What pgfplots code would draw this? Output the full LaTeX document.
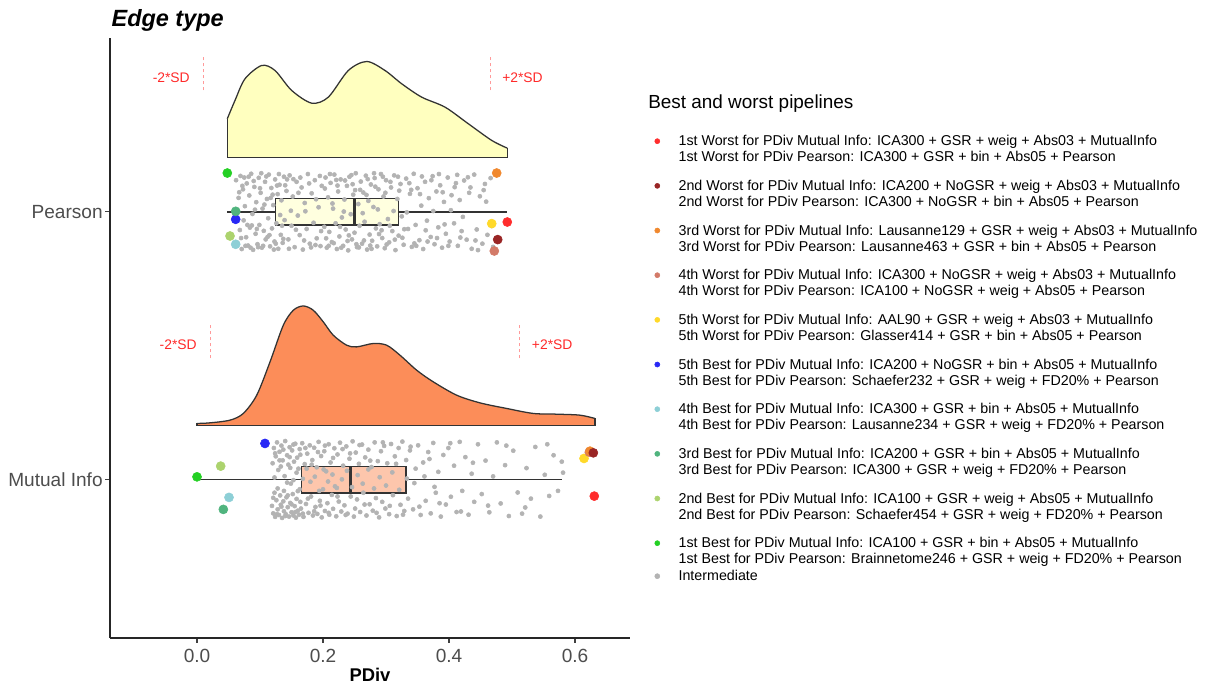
\documentclass[border=0pt]{standalone}
\usepackage{fontspec}
\setmainfont{Liberation Sans}
\usepackage{pgfplots}
\pgfplotsset{compat=1.18}
\usepgfplotslibrary{fillbetween,statistics}

\definecolor{pyel}{HTML}{FFFFBF}
\definecolor{mior}{HTML}{FC8D59}
\definecolor{ptgrey}{HTML}{B3B3B3}
\definecolor{outl}{HTML}{333333}
\definecolor{tickgrey}{HTML}{4D4D4D}
\definecolor{sdtext}{HTML}{FF2A2A}
\definecolor{sddash}{HTML}{FF9A9A}
\definecolor{cwa}{HTML}{FF2D2D}
\definecolor{cwb}{HTML}{992525}
\definecolor{cwc}{HTML}{F0882E}
\definecolor{cwd}{HTML}{D37A68}
\definecolor{cwe}{HTML}{FFD92A}
\definecolor{cbe}{HTML}{2828F5}
\definecolor{cbd}{HTML}{8DCFD6}
\definecolor{cbc}{HTML}{50B47E}
\definecolor{cbb}{HTML}{ACD36E}
\definecolor{cba}{HTML}{24D024}

% two-line legend entries; extra depth keeps the gap between entries
\newcommand\two[2]{\begin{tabular}[t]{@{}l@{}}#1\\#2\rule[-12.35pt]{0pt}{12.35pt}\end{tabular}}
\newcommand\twolast[2]{\begin{tabular}[t]{@{}l@{}}#1\\#2\end{tabular}}

\begin{document}
\begin{tikzpicture}
\begin{axis}[
  at={(0pt,0pt)}, anchor=south west,
  scale only axis, width=390pt, height=450pt,
  xmin=-0.1381, xmax=0.6873, ymin=0.4086, ymax=2.649,
  set layers, clip=false,
  axis lines*=left,
  axis line style={draw=black!85, line width=1pt},
  tick style={draw=black!75, line width=1pt},
  tick align=outside, major tick length=3.4pt,
  xtick={0,0.2,0.4,0.6}, xticklabels={0.0,0.2,0.4,0.6},
  ytick={1,2}, yticklabels={Mutual Info,Pearson},
  ticklabel style={font=\fontsize{14.3}{16}\selectfont, text=tickgrey},
  xticklabel style={inner sep=0pt, anchor=north, yshift=-4.8pt},
  yticklabel style={inner sep=0pt, anchor=east, xshift=-1.9pt},
  xlabel={PDiv},
  xlabel style={font=\fontsize{13.8}{16}\selectfont\bfseries, at={(axis description cs:0.5,0)}, anchor=north, yshift=-22.5pt, inner sep=0pt},
  legend image code/.code={\fill[#1] (0pt,3.6pt) circle[radius=1.9pt];},
  legend style={draw=none, fill=none, inner sep=0pt, outer sep=0pt,
    at={(1.0471,0.8387)}, anchor=north west,
    row sep=0.75pt, column sep=13.85pt,
    cells={anchor=base west},
    nodes={inner sep=0pt, text depth=},
    font=\fontsize{10.7}{12}\selectfont},
]

% ---- densities ----
\addplot[name path=pcurve, smooth, draw=outl, line width=0.95pt, forget plot] coordinates {
 (0.0481,2.3475) (0.0603,2.4158) (0.0762,2.4968) (0.1027,2.5464) (0.1238,2.5277)
 (0.1503,2.4531) (0.1821,2.4057) (0.2084,2.4281) (0.2402,2.5277) (0.2694,2.5613)
 (0.2984,2.5277) (0.3249,2.4781) (0.3567,2.4281) (0.3937,2.3908) (0.4306,2.3289)
 (0.4678,2.2666) (0.4925,2.2378)};
\addplot[name path=pbase, draw=outl, line width=0.95pt, forget plot] coordinates {
 (0.0481,2.3475) (0.0481,2.202) (0.4925,2.202) (0.4925,2.2378)};
\addplot[fill=pyel, forget plot] fill between[of=pcurve and pbase];

\addplot[name path=mcurve, smooth, draw=outl, line width=0.95pt, forget plot] coordinates {
 (0.0,1.2097) (0.0206,1.2120) (0.0524,1.2221) (0.0735,1.2471) (0.0948,1.3153)
 (0.1159,1.4396) (0.1370,1.5765) (0.1529,1.6325) (0.1687,1.6485) (0.1846,1.6325)
 (0.2005,1.5888) (0.2163,1.5392) (0.2376,1.5019) (0.2535,1.4956) (0.2798,1.5083)
 (0.3011,1.5019) (0.3222,1.4646) (0.3487,1.4086) (0.3751,1.3650) (0.4122,1.3153)
 (0.4492,1.2866) (0.4916,1.2657) (0.5338,1.2471) (0.5710,1.2444) (0.6079,1.2407)
 (0.6317,1.2284)};
\addplot[name path=mbase, draw=outl, line width=0.95pt, forget plot] coordinates {
 (0.0,1.2097) (0.0,1.2034) (0.6317,1.2034) (0.6317,1.2284)};
\addplot[fill=mior, forget plot] fill between[of=mcurve and mbase];

% ---- intermediate pipelines (jittered) ----
\addplot[only marks, mark=*, mark size=1.55pt, color=ptgrey, mark options={draw=none}, forget plot] coordinates {
 (0.062,2.118) (0.064,1.884) (0.066,2.052) (0.068,1.932) (0.069,2.134) (0.071,1.861) (0.073,2.084) (0.074,1.968)
 (0.076,2.021) (0.078,1.905) (0.079,2.106) (0.081,1.874) (0.083,2.061) (0.084,1.941) (0.086,2.142) (0.088,1.992)
 (0.089,1.858) (0.091,2.093) (0.093,1.918) (0.094,2.036) (0.096,1.879) (0.098,2.127) (0.099,1.951) (0.101,2.071)
 (0.103,1.866) (0.104,2.012) (0.106,1.929) (0.108,2.112) (0.109,1.897) (0.111,2.048) (0.113,1.976) (0.114,2.139)
 (0.116,1.871) (0.118,2.089) (0.119,1.938) (0.121,2.025) (0.123,1.889) (0.124,2.121) (0.126,1.957) (0.128,2.066)
 (0.129,1.862) (0.131,2.101) (0.133,1.914) (0.134,2.043) (0.136,1.884) (0.138,2.131) (0.139,1.969)
 (0.142,2.078) (0.145,1.897) (0.147,2.136) (0.150,1.948) (0.152,2.057) (0.155,1.868) (0.158,2.112) (0.160,1.986)
 (0.163,1.913) (0.166,2.091) (0.168,1.859) (0.171,2.033) (0.174,1.936) (0.176,2.141) (0.179,1.881) (0.182,2.069)
 (0.185,1.959) (0.187,2.118) (0.190,1.901) (0.193,2.017) (0.196,1.872) (0.198,2.097)
 (0.202,1.944) (0.204,2.128) (0.206,1.866) (0.208,2.054) (0.210,1.925) (0.212,2.108) (0.214,1.887) (0.216,2.012)
 (0.218,2.139) (0.220,1.957) (0.222,1.861) (0.224,2.076) (0.226,1.908) (0.228,2.121) (0.230,1.979) (0.232,1.873)
 (0.234,2.046) (0.236,1.934) (0.238,2.097) (0.240,1.856) (0.242,2.131) (0.244,1.991) (0.246,1.897) (0.248,2.064)
 (0.250,1.922) (0.252,2.144) (0.254,1.868) (0.256,2.029) (0.258,1.948) (0.260,2.113) (0.262,1.881) (0.264,2.072)
 (0.266,1.963) (0.268,2.135) (0.270,1.859) (0.272,2.041) (0.274,1.915) (0.276,2.102) (0.278,1.892) (0.280,2.018)
 (0.282,2.126) (0.284,1.938) (0.286,1.871) (0.288,2.084) (0.290,1.954) (0.292,2.141) (0.294,1.902) (0.296,2.057)
 (0.298,1.864) (0.300,2.118) (0.303,1.973) (0.305,1.886) (0.308,2.091) (0.310,1.928) (0.313,2.136) (0.315,1.857)
 (0.318,2.048) (0.320,1.911) (0.323,2.104) (0.325,1.983) (0.328,1.877)
 (0.332,2.124) (0.335,1.936) (0.338,2.067) (0.341,1.869) (0.344,2.142) (0.347,1.951) (0.350,2.088) (0.353,1.894)
 (0.356,2.023) (0.359,1.861) (0.362,2.112) (0.365,1.967) (0.368,2.051) (0.371,1.906) (0.374,2.133) (0.377,1.879)
 (0.380,2.076) (0.383,1.942) (0.386,2.099) (0.389,1.866) (0.392,2.037) (0.395,1.918) (0.398,2.128) (0.401,1.889)
 (0.404,2.062) (0.408,1.957) (0.411,2.107) (0.414,1.873) (0.417,2.044) (0.420,1.928)
 (0.424,2.117) (0.428,1.896) (0.432,2.071) (0.436,1.862) (0.440,2.139) (0.444,1.934) (0.449,2.058) (0.453,1.881)
 (0.457,2.104) (0.461,1.914) (0.466,2.126) (0.470,1.869)
 (0.065,1.998) (0.072,2.097) (0.077,1.873) (0.082,2.131) (0.087,1.949) (0.092,2.008) (0.097,1.868) (0.102,2.144)
 (0.107,2.027) (0.112,1.906) (0.117,2.052) (0.122,1.859) (0.127,2.098) (0.132,1.988) (0.137,1.899) (0.143,2.121)
 (0.149,2.004) (0.157,1.933) (0.164,2.128) (0.172,2.002) (0.181,1.867) (0.189,2.047) (0.197,1.928) (0.203,2.087)
 (0.209,1.873) (0.215,2.031) (0.221,2.119) (0.227,1.944) (0.233,2.001) (0.239,1.891) (0.245,2.137) (0.251,2.081)
 (0.257,1.867) (0.263,1.995) (0.269,2.063) (0.275,1.874) (0.281,2.144) (0.287,2.009) (0.293,1.931) (0.299,2.071)
 (0.306,1.948) (0.312,2.003) (0.319,2.131) (0.326,1.903) (0.333,1.998) (0.340,2.082) (0.348,1.873) (0.357,2.132)
 (0.366,1.889) (0.375,2.003) (0.384,2.141) (0.393,1.953) (0.403,2.006) (0.413,2.138) (0.422,1.981) (0.434,2.091)
 (0.446,1.857) (0.459,2.038)
 (0.067,2.073) (0.070,1.902) (0.075,2.128) (0.080,1.951) (0.085,1.866) (0.090,2.115) (0.095,1.936) (0.100,2.088)
 (0.105,1.873) (0.110,2.132) (0.115,1.913) (0.120,2.064) (0.125,1.881) (0.130,2.141) (0.135,1.948) (0.140,2.099)
 (0.146,1.862) (0.153,2.122) (0.161,2.071) (0.170,1.893) (0.178,2.106) (0.188,1.876) (0.195,2.134) (0.205,1.901)
 (0.211,2.141) (0.217,1.883) (0.223,2.098) (0.229,1.866) (0.235,2.117) (0.241,1.912) (0.247,2.103) (0.253,1.879)
 (0.259,2.082) (0.265,1.893) (0.271,2.122) (0.277,1.862) (0.283,2.094) (0.289,1.917) (0.295,2.131) (0.301,1.878)
 (0.307,2.112) (0.314,1.896) (0.321,2.079) (0.329,1.935) (0.337,2.107) (0.345,1.882) (0.354,2.066) (0.363,1.931)
 (0.372,2.118) (0.381,1.902) (0.390,2.073) (0.399,1.873) (0.409,2.092) (0.418,1.904) (0.430,2.129) (0.442,1.893)
 (0.455,2.081) (0.468,1.947)};
\addplot[only marks, mark=*, mark size=1.55pt, color=ptgrey, mark options={draw=none}, forget plot] coordinates {
 (0.119,0.902) (0.120,1.061) (0.121,0.874) (0.122,1.118) (0.123,0.951) (0.124,0.861) (0.125,1.087) (0.126,0.923)
 (0.127,1.139) (0.128,0.889) (0.129,1.036) (0.130,0.868) (0.131,1.104) (0.132,0.941) (0.133,0.906) (0.134,1.127)
 (0.135,0.857) (0.136,1.072) (0.137,0.919) (0.138,0.882) (0.139,1.013) (0.140,1.144) (0.141,0.871) (0.142,0.934)
 (0.143,1.091) (0.144,0.897) (0.145,1.056) (0.146,0.862) (0.147,1.121) (0.148,0.913) (0.149,0.985) (0.150,0.878)
 (0.151,1.109) (0.152,0.946) (0.153,0.866) (0.154,1.067) (0.155,0.901) (0.156,1.134) (0.157,0.858) (0.158,0.928)
 (0.159,1.082) (0.160,0.884) (0.161,1.041) (0.162,0.869) (0.163,1.114) (0.164,0.917) (0.165,0.892) (0.167,1.136)
 (0.169,0.861) (0.171,1.058) (0.173,0.909) (0.175,1.097) (0.177,0.876) (0.179,1.128)
 (0.181,0.937) (0.183,1.073) (0.184,0.866) (0.186,1.119) (0.188,0.898) (0.190,1.046) (0.191,0.872) (0.193,1.141)
 (0.195,0.921) (0.197,1.088) (0.198,0.859) (0.200,0.964) (0.202,1.106) (0.203,0.883) (0.205,1.031) (0.207,0.912)
 (0.209,1.132) (0.210,0.869) (0.212,1.064) (0.214,0.943) (0.216,0.891) (0.218,1.117) (0.219,0.975) (0.221,0.863)
 (0.223,1.094) (0.225,0.918) (0.227,1.138) (0.229,0.881)
 (0.232,1.052) (0.234,0.904) (0.237,1.124) (0.239,0.873) (0.242,1.078) (0.244,0.937) (0.247,1.143) (0.249,0.862)
 (0.252,1.101) (0.254,0.926) (0.257,1.059) (0.259,0.879) (0.262,1.131) (0.264,0.951) (0.267,1.083) (0.269,0.866)
 (0.272,1.112) (0.274,0.908) (0.277,1.047) (0.279,0.884) (0.282,1.139) (0.284,0.931) (0.287,1.069) (0.289,0.859)
 (0.292,1.106) (0.294,0.917) (0.297,1.126) (0.299,0.892) (0.302,1.061) (0.305,0.871) (0.308,1.133) (0.311,0.942)
 (0.314,1.087) (0.317,0.864) (0.320,1.118) (0.323,0.906) (0.326,1.142) (0.329,0.883) (0.332,1.073) (0.335,0.929)
 (0.338,1.109)
 (0.343,0.889) (0.347,1.041) (0.351,1.128) (0.355,0.868) (0.359,1.064) (0.363,0.921) (0.367,1.103) (0.371,0.874)
 (0.375,1.137) (0.379,0.951) (0.383,1.029) (0.387,0.862) (0.391,1.092) (0.395,0.907) (0.399,1.118) (0.403,0.936)
 (0.408,1.052) (0.412,0.879) (0.417,1.141) (0.421,0.958) (0.426,1.084) (0.431,0.869) (0.436,1.022) (0.440,0.917)
 (0.446,1.132) (0.452,0.946) (0.458,1.071) (0.464,0.878) (0.470,1.012) (0.476,1.139) (0.482,0.911) (0.489,1.054)
 (0.495,0.864) (0.502,1.108) (0.509,0.952) (0.516,0.873) (0.523,1.043) (0.530,0.929) (0.537,1.122) (0.545,0.862)
 (0.552,1.018) (0.559,0.939) (0.566,1.091) (0.573,0.958) (0.579,1.067) (0.581,1.026)
 (0.123,1.008) (0.128,0.967) (0.133,1.049) (0.138,0.958) (0.143,0.989) (0.148,1.044) (0.153,0.998) (0.158,1.026)
 (0.163,0.964) (0.168,1.003) (0.174,1.041) (0.180,0.992) (0.187,1.011) (0.194,0.958) (0.201,1.038) (0.208,0.993)
 (0.215,1.019) (0.222,0.969) (0.230,1.001) (0.238,1.033) (0.246,0.972) (0.255,1.017) (0.263,0.985) (0.272,1.038)
 (0.281,0.967) (0.290,1.009) (0.300,0.978) (0.310,1.027) (0.321,0.962) (0.333,1.004) (0.345,0.987) (0.361,1.012)
 (0.377,0.973)
 (0.121,0.932) (0.124,1.098) (0.127,0.871) (0.131,1.072) (0.134,0.899) (0.137,1.112) (0.140,0.864) (0.144,0.941)
 (0.147,1.084) (0.150,0.908) (0.153,1.131) (0.156,0.879) (0.160,0.957) (0.164,1.093) (0.168,0.873) (0.172,1.118)
 (0.176,0.929) (0.182,1.056) (0.186,0.882) (0.192,1.103) (0.196,0.903) (0.203,1.127) (0.209,0.876) (0.216,1.081)
 (0.223,0.937) (0.231,1.114) (0.236,0.868) (0.243,1.098) (0.251,0.892) (0.258,1.129) (0.266,0.907) (0.275,1.071)
 (0.285,0.876) (0.295,1.139) (0.306,0.902) (0.316,1.059) (0.327,0.869) (0.339,1.123) (0.353,0.899) (0.369,1.077)
 (0.385,0.912) (0.402,1.136) (0.419,0.881) (0.438,1.063) (0.462,0.903) (0.491,1.127) (0.521,0.896) (0.556,1.132)};

% ---- boxplots ----
\addplot[boxplot prepared={draw direction=x, draw position=2, median=0.2500,
  lower quartile=0.1249, upper quartile=0.3195, lower whisker=0.0481, upper whisker=0.4925,
  box extend=0.0996, whisker extend=0, every median/.style={line width=1.9pt}},
  draw=outl, line width=1.1pt, fill=pyel, fill opacity=0.5, forget plot] coordinates {};
\addplot[boxplot prepared={draw direction=x, draw position=1, median=0.2440,
  lower quartile=0.1662, upper quartile=0.3317, lower whisker=0.0, upper whisker=0.5789,
  box extend=0.0996, whisker extend=0, every median/.style={line width=1.9pt}},
  draw=outl, line width=1.1pt, fill=mior, fill opacity=0.5, forget plot] coordinates {};

% ---- best and worst pipelines ----
\addplot[only marks, mark=*, mark size=3.4pt, color=cwe, mark options={draw=none}, forget plot] coordinates {(0.4678,1.9560) (0.6143,1.0791)};
\addplot[only marks, mark=*, mark size=3.4pt, color=cwd, mark options={draw=none}, forget plot] coordinates {(0.4719,1.8537) (0.6227,1.1026)};
\addplot[only marks, mark=*, mark size=3.4pt, color=cwc, mark options={draw=none}, forget plot] coordinates {(0.4757,2.1448) (0.6238,1.1063)};
\addplot[only marks, mark=*, mark size=3.4pt, color=cwb, mark options={draw=none}, forget plot] coordinates {(0.4773,1.8963) (0.6291,1.1000)};
\addplot[only marks, mark=*, mark size=3.4pt, color=cwa, mark options={draw=none}, forget plot] coordinates {(0.4925,1.9619) (0.6306,0.9384)};
\addplot[only marks, mark=*, mark size=3.4pt, color=cbe, mark options={draw=none}, forget plot] coordinates {(0.0614,1.9720) (0.1079,1.1351)};
\addplot[only marks, mark=*, mark size=3.4pt, color=cbd, mark options={draw=none}, forget plot] coordinates {(0.0614,1.8787) (0.0508,0.9336)};
\addplot[only marks, mark=*, mark size=3.4pt, color=cbc, mark options={draw=none}, forget plot] coordinates {(0.0614,2.0019) (0.0418,0.8888)};
\addplot[only marks, mark=*, mark size=3.4pt, color=cbb, mark options={draw=none}, forget plot] coordinates {(0.0524,1.9097) (0.0376,1.0504)};
\addplot[only marks, mark=*, mark size=3.4pt, color=cba, mark options={draw=none}, forget plot] coordinates {(0.0481,2.1448) (0.0,1.0104)};

% ---- +-2 SD markers ----
\addplot[sddash, line width=0.5pt, dash pattern=on 2.5pt off 2pt, forget plot] coordinates {(0.0095,2.453) (0.0095,2.584)};
\addplot[sddash, line width=0.5pt, dash pattern=on 2.5pt off 2pt, forget plot] coordinates {(0.4651,2.453) (0.4651,2.584)};
\addplot[sddash, line width=0.5pt, dash pattern=on 2.5pt off 2pt, forget plot] coordinates {(0.0206,1.453) (0.0206,1.584)};
\addplot[sddash, line width=0.5pt, dash pattern=on 2.5pt off 2pt, forget plot] coordinates {(0.5116,1.453) (0.5116,1.584)};
\node[anchor=east, inner sep=0pt, text=sdtext, font=\fontsize{10.4}{12}\selectfont] at (axis cs:-0.0111,2.5019) {-2*SD};
\node[anchor=west, inner sep=0pt, text=sdtext, font=\fontsize{10.4}{12}\selectfont] at (axis cs:0.4841,2.5019) {+2*SD};
\node[anchor=east, inner sep=0pt, text=sdtext, font=\fontsize{10.4}{12}\selectfont] at (axis cs:0.0,1.5019) {-2*SD};
\node[anchor=west, inner sep=0pt, text=sdtext, font=\fontsize{10.4}{12}\selectfont] at (axis cs:0.5313,1.5019) {+2*SD};

% ---- titles ----
\node[anchor=base west, inner sep=0pt, xshift=1pt, yshift=9pt, font=\fontsize{17.6}{20}\selectfont\bfseries\itshape] at (axis description cs:0,1) {Edge type};
\node[anchor=base west, inner sep=0pt, font=\fontsize{14.2}{17}\selectfont] at (axis description cs:1.0346,0.8817) {Best and worst pipelines};

% ---- legend ----
\addlegendimage{cwa}
\addlegendentry{\two{1st Worst for PDiv Mutual Info: ICA300 + GSR + weig + Abs03 + MutualInfo}{1st Worst for PDiv Pearson: ICA300 + GSR + bin + Abs05 + Pearson}}
\addlegendimage{cwb}
\addlegendentry{\two{2nd Worst for PDiv Mutual Info: ICA200 + NoGSR + weig + Abs03 + MutualInfo}{2nd Worst for PDiv Pearson: ICA300 + NoGSR + bin + Abs05 + Pearson}}
\addlegendimage{cwc}
\addlegendentry{\two{3rd Worst for PDiv Mutual Info: Lausanne129 + GSR + weig + Abs03 + MutualInfo}{3rd Worst for PDiv Pearson: Lausanne463 + GSR + bin + Abs05 + Pearson}}
\addlegendimage{cwd}
\addlegendentry{\two{4th Worst for PDiv Mutual Info: ICA300 + NoGSR + weig + Abs03 + MutualInfo}{4th Worst for PDiv Pearson: ICA100 + NoGSR + weig + Abs05 + Pearson}}
\addlegendimage{cwe}
\addlegendentry{\two{5th Worst for PDiv Mutual Info: AAL90 + GSR + weig + Abs03 + MutualInfo}{5th Worst for PDiv Pearson: Glasser414 + GSR + bin + Abs05 + Pearson}}
\addlegendimage{cbe}
\addlegendentry{\two{5th Best for PDiv Mutual Info: ICA200 + NoGSR + bin + Abs05 + MutualInfo}{5th Best for PDiv Pearson: Schaefer232 + GSR + weig + FD20\% + Pearson}}
\addlegendimage{cbd}
\addlegendentry{\two{4th Best for PDiv Mutual Info: ICA300 + GSR + bin + Abs05 + MutualInfo}{4th Best for PDiv Pearson: Lausanne234 + GSR + weig + FD20\% + Pearson}}
\addlegendimage{cbc}
\addlegendentry{\two{3rd Best for PDiv Mutual Info: ICA200 + GSR + bin + Abs05 + MutualInfo}{3rd Best for PDiv Pearson: ICA300 + GSR + weig + FD20\% + Pearson}}
\addlegendimage{cbb}
\addlegendentry{\two{2nd Best for PDiv Mutual Info: ICA100 + GSR + weig + Abs05 + MutualInfo}{2nd Best for PDiv Pearson: Schaefer454 + GSR + weig + FD20\% + Pearson}}
\addlegendimage{cba}
\addlegendentry{\twolast{1st Best for PDiv Mutual Info: ICA100 + GSR + bin + Abs05 + MutualInfo}{1st Best for PDiv Pearson: Brainnetome246 + GSR + weig + FD20\% + Pearson}}
\addlegendimage{ptgrey}
\addlegendentry{\begin{tabular}[t]{@{}l@{}}Intermediate\end{tabular}}
\end{axis}
% fix the page to the reference frame (1 px = 0.75 pt)
\pgfresetboundingbox
\path[use as bounding box] (-82.5pt,-36.75pt) rectangle (825.75pt,478.5pt);
\end{tikzpicture}
\end{document}
